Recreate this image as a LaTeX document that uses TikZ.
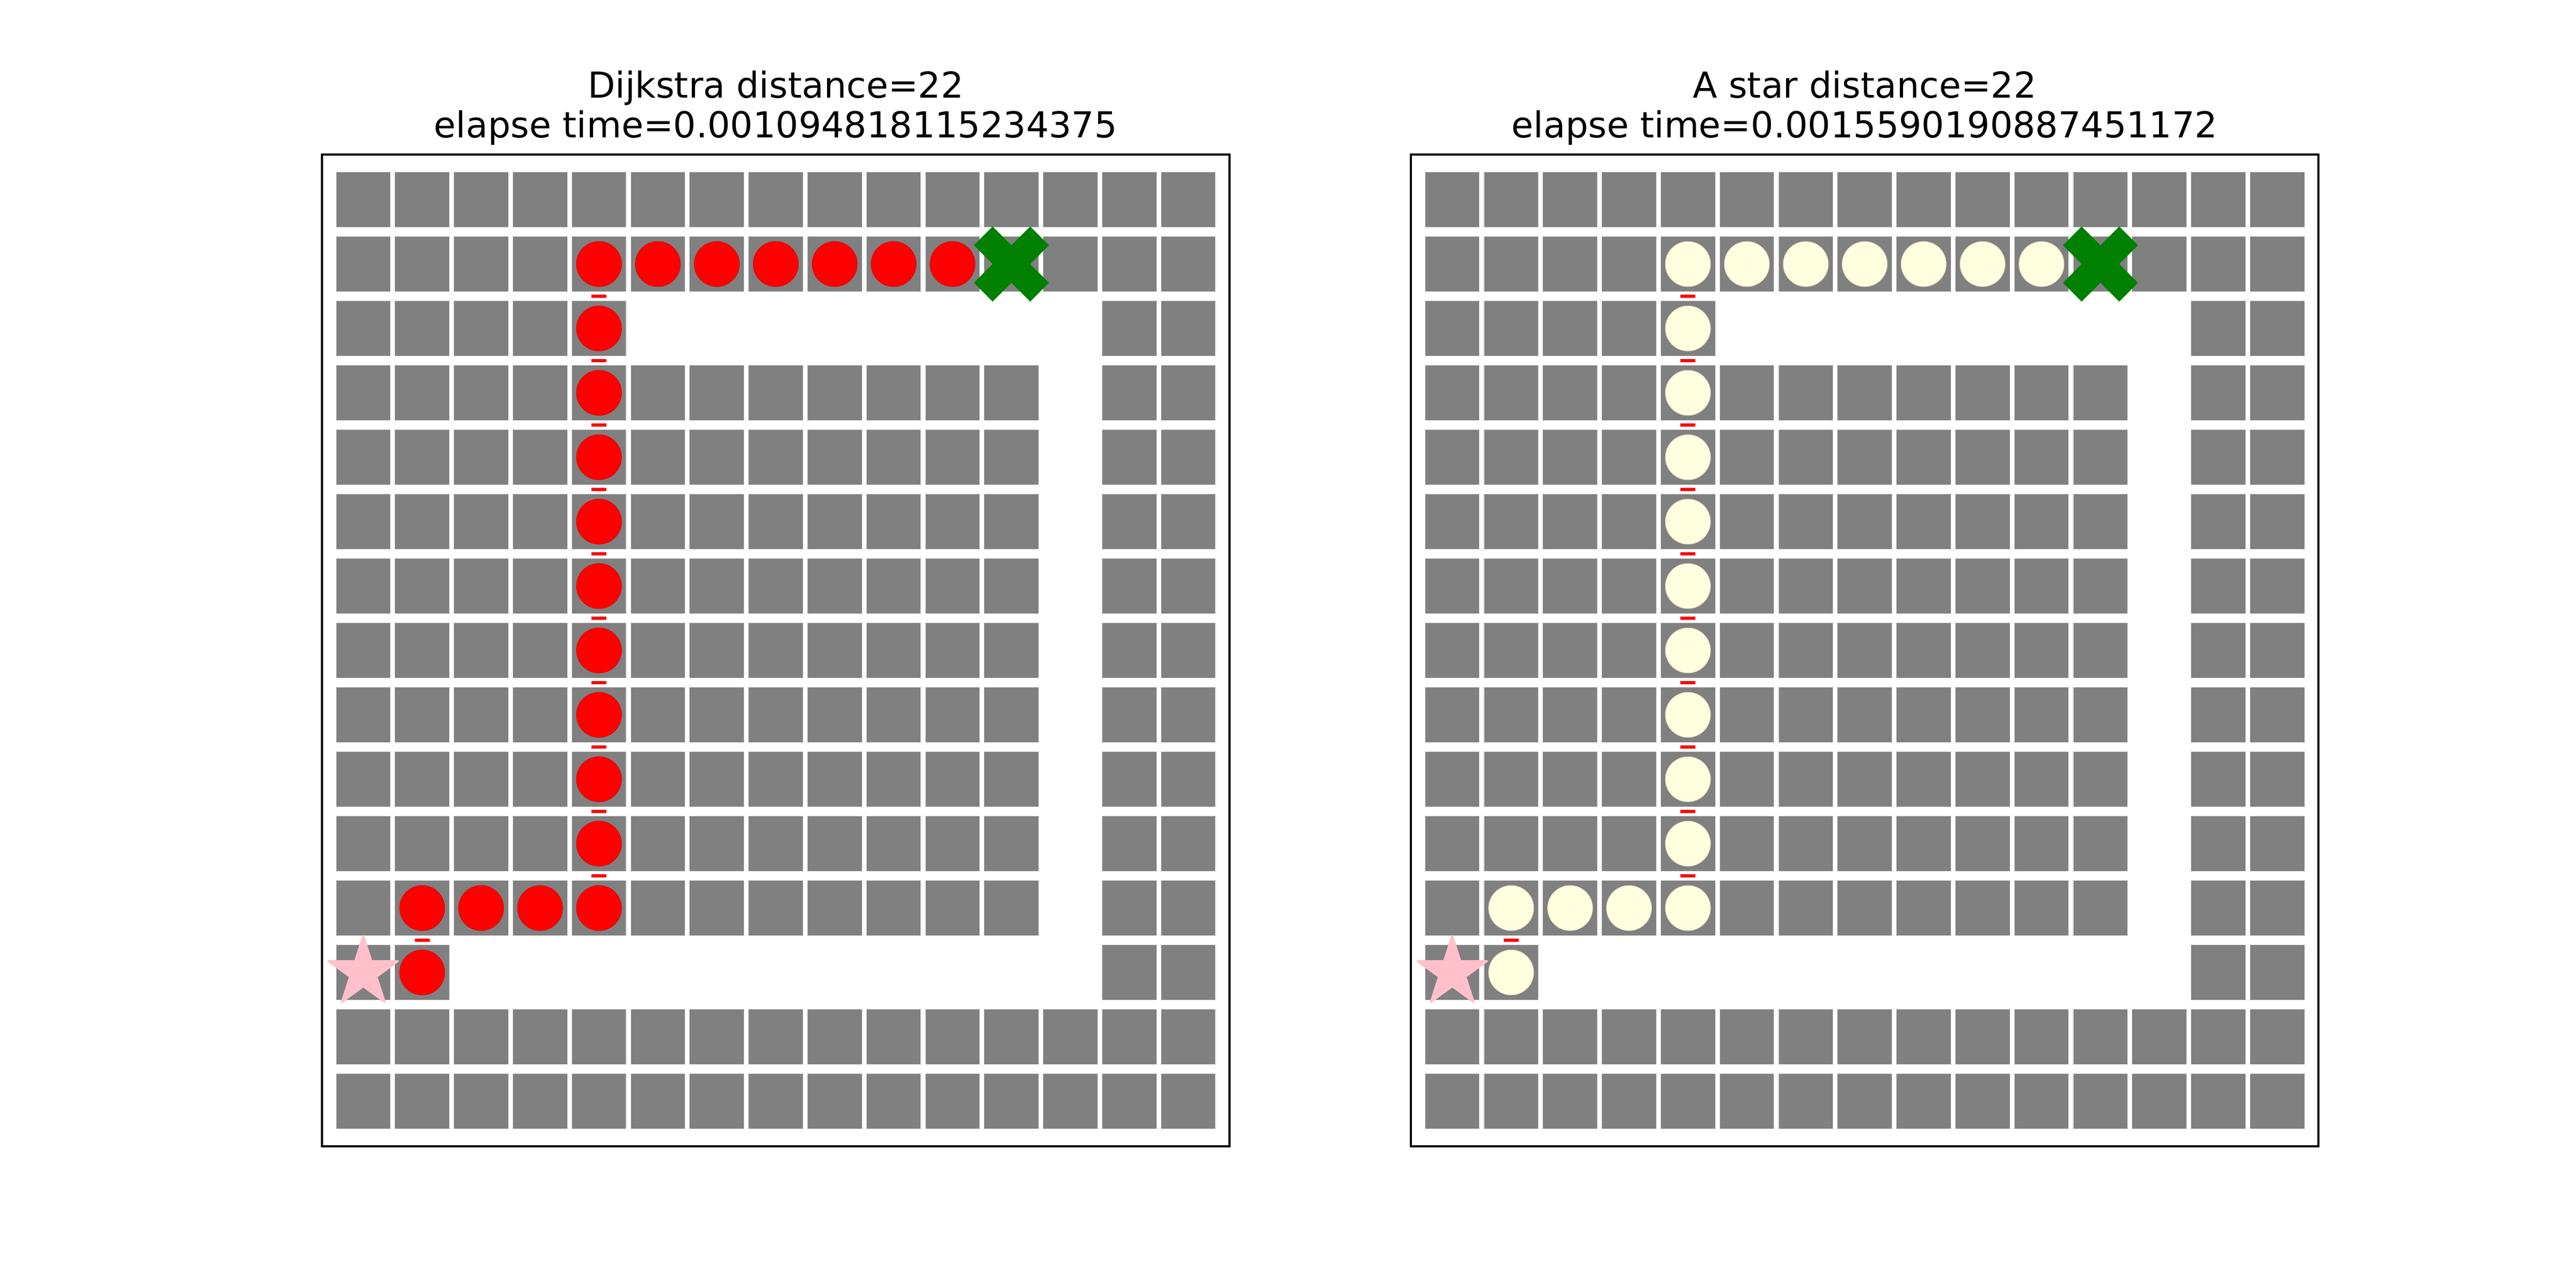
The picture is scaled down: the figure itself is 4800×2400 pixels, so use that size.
\documentclass[tikz,border=0pt]{standalone}
\usepackage{fontspec}
\setmainfont{DejaVu Sans}
\usetikzlibrary{shapes.geometric}
\definecolor{mplgray}{HTML}{808080}
\definecolor{mplred}{HTML}{FF0000}
\definecolor{mplyellow}{HTML}{FFFFE0}
\definecolor{mplpink}{HTML}{FFC0CB}
\definecolor{mplgreen}{HTML}{008000}
\tikzset{
  block/.style = {rectangle, fill = mplgray, draw = gray!25, line width = 0.2pt,
                  minimum width = 18.3pt, minimum height = 18.5pt, inner sep = 0pt},
  visit/.style = {circle, minimum size = 15.1pt, inner sep = 0pt, line width = 0.2pt},
  link/.style  = {rectangle, fill = mplred, minimum width = 5pt, minimum height = 1.13pt, inner sep = 0pt},
  start/.style = {star, star points = 5, star point ratio = 2.618, fill = mplpink, draw = mplpink,
                  line width = 0.6pt, line join = round, minimum size = 24.6pt, inner sep = 0pt},
  title/.style = {align = center, font = \fontsize{12}{13.3}\selectfont, inner sep = 0pt}
}

\begin{document}
\begin{tikzpicture}[x = 0.18pt, y = -0.18pt]
%\draw [help lines] (0,0) grid (4800,2400);
\useasboundingbox (0,0) rectangle (4800,2400);
\foreach \k/\px/\algo/\secs/\dot in {1/600/Dijkstra/0.001094818115234375/mplred,
                                      2/2629.1/A star/0.0015590190887451172/mplyellow}{
  \begin{scope}[shift = {(\px,288)}]
    % grey blocks, free corridor left white
    \foreach \c in {0,...,14}
      \foreach \r in {0,...,14}{
        \pgfmathtruncatemacro\free{(\r==2 && \c>4 && \c<13) || (\c==12 && \r>1 && \r<13) || (\r==12 && \c>1 && \c<13)}
        \ifnum\free=0
          \node [block] (b\k-\c-\r) at ({76.9+109.8*\c},{84+120*\r}) {};
        \fi
      }
    \foreach \c/\r in {1/11,4/1,4/2,4/3,4/4,4/5,4/6,4/7,4/8,4/9,4/10}
      \node [link] (l\k-\c-\r) at ({76.9+109.8*\c},{144+120*\r}) {};
    \foreach \c/\r in {1/12,1/11,2/11,3/11,4/11,4/10,4/9,4/8,4/7,4/6,4/5,4/4,4/3,4/2,4/1,
                       5/1,6/1,7/1,8/1,9/1,10/1}
      \node [visit, fill = \dot, draw = \dot!88!black] (p\k-\c-\r) at ({76.9+109.8*\c},{84+120*\r}) {};
    \node [start] (s\k) at (76.9,1524) {};
    \coordinate (g\k) at (1284.7,204);
    \fill [mplgreen, shift = {(g\k)}] (35,-70) -- (70,-35) -- (35,0) -- (70,35) -- (35,70) -- (0,35)
      -- (-35,70) -- (-70,35) -- (-35,0) -- (-70,-35) -- (-35,-70) -- (0,-35) -- cycle;
    \draw [line width = 0.8pt] (0,0) rectangle (1690.9,1848);
    \node [title, anchor = base] (t\k) at (845.45,-32) {{\algo} distance=22\\elapse time=\secs};
  \end{scope}
}
\end{tikzpicture}
\end{document}
